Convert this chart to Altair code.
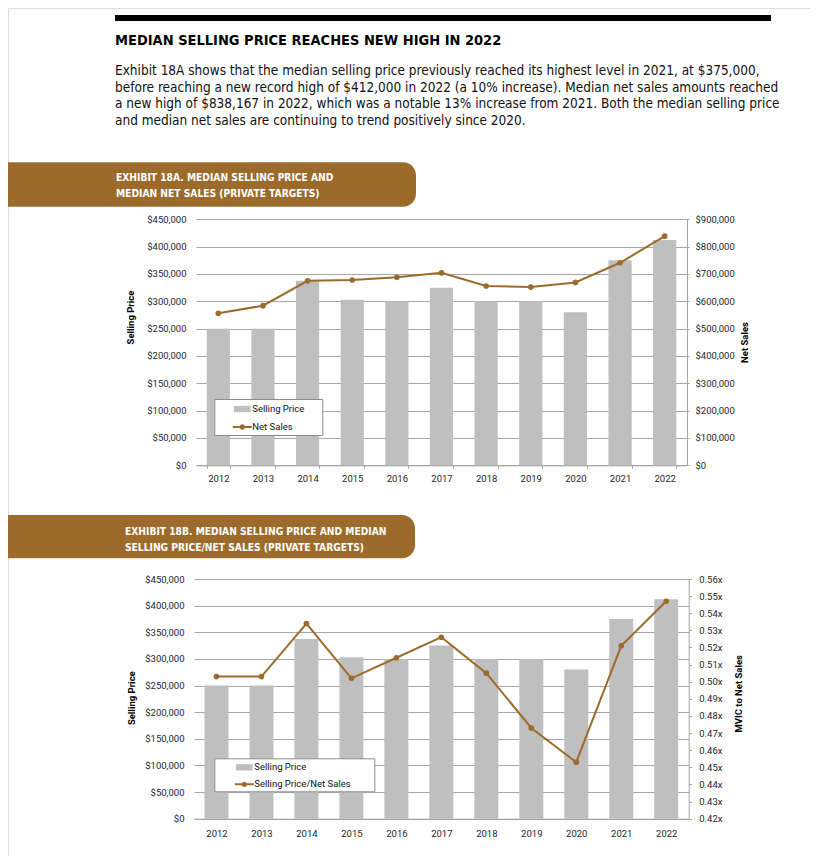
import altair as alt
import pandas as pd

# ---------------- data ----------------
years = ["2012", "2013", "2014", "2015", "2016", "2017", "2018", "2019", "2020", "2021", "2022"]
selling_price = [250000, 250000, 337500, 303000, 300000, 325000, 300000, 300000, 280000, 375000, 412000]
net_sales = [556000, 584000, 675000, 678000, 688000, 704000, 656000, 652000, 669000, 741000, 838167]
price_to_sales = [0.503, 0.503, 0.534, 0.502, 0.514, 0.526, 0.505, 0.473, 0.453, 0.521, 0.547]

price_ticks = [0, 50000, 100000, 150000, 200000, 250000, 300000, 350000, 400000, 450000]
net_ticks = [0, 100000, 200000, 300000, 400000, 500000, 600000, 700000, 800000, 900000]
ratio_ticks = [0.42, 0.43, 0.44, 0.45, 0.46, 0.47, 0.48, 0.49, 0.50, 0.51, 0.52, 0.53, 0.54, 0.55, 0.56]

legend_a = ["Selling Price", "Net Sales"]
legend_b = ["Selling Price", "Selling Price/Net Sales"]

heading = "MEDIAN SELLING PRICE REACHES NEW HIGH IN 2022"
paragraph = [
    "Exhibit 18A shows that the median selling price previously reached its highest level in 2021, at $375,000,",
    "before reaching a new record high of $412,000 in 2022 (a 10% increase). Median net sales amounts reached",
    "a new high of $838,167 in 2022, which was a notable 13% increase from 2021. Both the median selling price",
    "and median net sales are continuing to trend positively since 2020.",
]
banner_a = ["EXHIBIT 18A. MEDIAN SELLING PRICE AND", "MEDIAN NET SALES (PRIVATE TARGETS)"]
banner_b = ["EXHIBIT 18B. MEDIAN SELLING PRICE AND MEDIAN", "SELLING PRICE/NET SALES (PRIVATE TARGETS)"]

df = pd.DataFrame({"year": years, "price": selling_price, "net": net_sales, "ratio": price_to_sales})

# ---------------- style ----------------
W, H = 802, 848
BROWN = "#9C6B2C"
BAR = "#BFBFBF"
GRID = "#A6A6A6"
LBL = "#262626"
NARROW = "DejaVu Sans Condensed, sans-serif"
FONT = "Roboto"

SWATCH = "M-1.2,-0.45H1.2V0.45H-1.2Z"
LINEDOT = ("M-1.35,-0.14H1.35V0.14H-1.35Z "
           "M-0.38,0A0.38,0.38 0 1,1 0.38,0A0.38,0.38 0 1,1 -0.38,0Z")

lab = dict(labelFont=FONT, labelFontSize=9.5, labelColor=LBL)
ttl = dict(titleFont=FONT, titleFontSize=9.5, titleFontWeight="bold", titleColor="#000",
           titleAngle=270, titleBaseline="middle")

one = alt.InlineData(values=[{}])


def deco_text(lines, x, y, size, weight, color, font, lh):
    return alt.Chart(one).mark_text(
        text=lines, align="left", baseline="alphabetic", font=font, fontSize=size,
        fontWeight=weight, color=color, lineHeight=lh
    ).encode(x=alt.value(x), y=alt.value(y))


def deco_rect(x, x2, y, y2, color, r=0):
    m = alt.Chart(one).mark_rect(color=color, cornerRadiusTopRight=r, cornerRadiusBottomRight=r) if r else \
        alt.Chart(one).mark_rect(color=color)
    return m.encode(x=alt.value(x), x2=alt.value(x2), y=alt.value(y), y2=alt.value(y2))


def panel(x0, x1, pin, y0, y1, xtick, xpad, right_x, line_field, line_domain, line_ticks,
          line_fmt, line_title, ltx, lty, rtx, rty, rtick, rpad):
    xsc = alt.Scale(type="band", range=[x0, x1], paddingInner=pin, paddingOuter=pin / 2)
    bars = alt.Chart(df).mark_bar(color=BAR).encode(
        x=alt.X("year:O", scale=xsc, axis=alt.Axis(
            orient="bottom", offset=y0 - H, title=None, labelAngle=0,
            ticks=xtick > 0, tickSize=max(xtick, 1), tickBand="extent", tickColor=GRID,
            domain=True, domainColor=GRID, grid=False, labelPadding=xpad, **lab)),
        y=alt.Y("price:Q", scale=alt.Scale(domain=[0, 450000], range=[y0, y1], nice=False),
                axis=alt.Axis(orient="left", offset=-x0, values=price_ticks, format="$,.0f",
                              ticks=False, domain=False, grid=True, gridColor=GRID, gridWidth=1,
                              labelPadding=10, title="Selling Price", titleX=ltx, titleY=lty,
                              **lab, **ttl)),
    )
    axis_kw = dict(orient="right", offset=right_x - W, values=line_ticks,
                   ticks=True, tickSize=rtick, tickColor=GRID, domain=True, domainColor=GRID,
                   grid=False, labelPadding=rpad, title=line_title, titleX=rtx, titleY=rty,
                   **lab, **ttl)
    if line_fmt == "x":
        axis_kw["labelExpr"] = "format(datum.value, '.2f') + 'x'"
    else:
        axis_kw["format"] = line_fmt
    line = alt.Chart(df).mark_line(
        color=BROWN, strokeWidth=2,
        point=alt.OverlayMarkDef(filled=True, size=32, color=BROWN, opacity=1)
    ).encode(
        x=alt.X("year:O", scale=xsc, axis=None),
        y=alt.Y(f"{line_field}:Q", scale=alt.Scale(domain=line_domain, range=[y0, y1], nice=False, zero=False),
                axis=alt.Axis(**axis_kw)),
    )
    return bars, line


def legend_layer(labels, lx, ly, pad, rowpad, symoff, npad):
    leg = alt.Legend(orient="none", legendX=lx, legendY=ly, title=None, padding=pad,
                     rowPadding=rowpad, symbolOffset=symoff, symbolSize=196, symbolStrokeWidth=0,
                     labelOffset=3, labelFont=FONT, labelFontSize=9.5, labelColor="#111",
                     fillColor="#FFFFFF", strokeColor="#8C8C8C", cornerRadius=0,
                     labelExpr="datum.label + '" + "\u2800" * npad + "'")
    return alt.Chart(pd.DataFrame({"series": labels})).transform_filter("false").mark_point(
        filled=True, opacity=1
    ).encode(
        color=alt.Color("series:N", scale=alt.Scale(domain=labels, range=[BAR, BROWN]), legend=leg),
        shape=alt.Shape("series:N", scale=alt.Scale(domain=labels, range=[SWATCH, LINEDOT]), legend=leg),
    )


barsA, lineA = panel(188, 679, 0.48, 457.3, 211.3, 3, 5, 679, "net", [0, 900000], net_ticks,
                     "$,.0f", "Net Sales", -65.3, 309, 57, 334, 2, 6)
barsB, lineB = panel(186, 680.7, 0.467, 810.7, 571, 0, 10, 680.7, "ratio", [0.42, 0.56], ratio_ticks,
                     "x", "MVIC to Net Sales", -62.3, 689.7, 49.6, 685.3, 3, 7)

legA = legend_layer(legend_a, 206.3, 391, 3, 6, 18, 2)
legB = legend_layer(legend_b, 206.3, 750.3, 2, 5, 21, 3)

layers = [
    deco_rect(107, 763, 7, 13, "#000000"),
    deco_text(heading, 107, 37.3, 14.5, "bold", "#000000", NARROW, 20),
    deco_text(paragraph, 107, 67, 13.5, "normal", "#111111", NARROW, 16.7),
    deco_rect(0, 408, 154.3, 198.7, BROWN, 13),
    deco_text(banner_a, 108, 172.7, 10.2, "bold", "#FFFFFF", NARROW, 16.6),
    deco_rect(0, 407, 507, 550.3, BROWN, 13),
    deco_text(banner_b, 117, 527, 10.2, "bold", "#FFFFFF", NARROW, 16),
    barsA, lineA, barsB, lineB, legA, legB,
]

chart = alt.layer(*layers).resolve_scale(
    x="independent", y="independent", color="independent", shape="independent"
).resolve_axis(x="independent", y="independent").properties(
    width=W, height=H, autosize=alt.AutoSizeParams(type="none"), padding=0
).configure_view(stroke="transparent").configure(background="#FFFFFF")

chart.save("out.html", embed_options={"renderer": "svg", "actions": False})
